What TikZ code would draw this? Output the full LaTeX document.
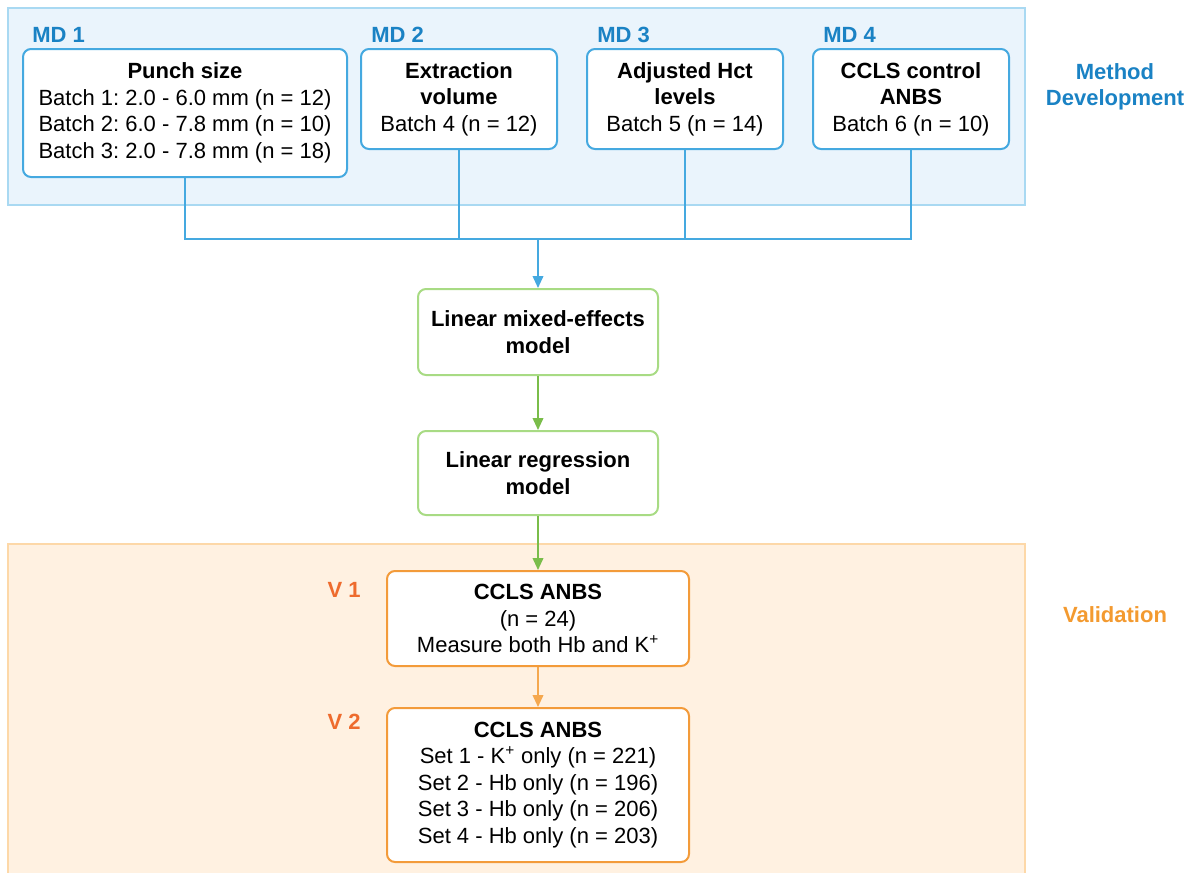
\documentclass[tikz,border=0pt]{standalone}
\usepackage{fontspec}
\setmainfont{Liberation Sans}
\usetikzlibrary{arrows.meta}
\frenchspacing

\definecolor{bluebg}{HTML}{EAF4FC}
\definecolor{blueframe}{HTML}{A9D9F2}
\definecolor{blueedge}{HTML}{45A9E0}
\definecolor{bluetext}{HTML}{1A82C4}
\definecolor{greenedge}{HTML}{A8DB84}
\definecolor{greenline}{HTML}{7ABD4A}
\definecolor{orangebg}{HTML}{FFF1E1}
\definecolor{orangeframe}{HTML}{FDD8A8}
\definecolor{orangeedge}{HTML}{F39B3A}
\definecolor{orangeline}{HTML}{F5A84E}
\definecolor{vtext}{HTML}{EE6B2D}
\definecolor{valtext}{HTML}{F39A30}

\begin{document}
\begin{tikzpicture}[
  x=0.75pt, y=-0.75pt,
  box/.style={rectangle, rounded corners=6pt, line width=1.5pt, fill=white, align=center,
    font=\fontsize{16.5}{19.9}\selectfont, inner sep=2pt},
  mdbox/.style={box, draw=blueedge},
  modelbox/.style={box, draw=greenedge, minimum width=180pt, font=\bfseries\fontsize{16.5}{19.9}\selectfont},
  valbox/.style={box, draw=orangeedge, minimum width=226.5pt},
  steplabel/.style={font=\bfseries\fontsize{16.5}{19.5}\selectfont, inner sep=0pt},
  tip/.style={-{Triangle[length=9pt,width=8pt]}},
  link/.style={line width=1.2pt}
]
\useasboundingbox (0,0) rectangle (1192,872);

% Section backgrounds
\filldraw[fill=bluebg, draw=blueframe, line width=0.8pt] (8,8) rectangle (1025,205);
\filldraw[fill=orangebg, draw=orangeframe, line width=0.8pt] (8,544) rectangle (1025,880);
\node[steplabel, text=bluetext, align=center] (mdev) at (1115,87) {Method\\Development};
\node[steplabel, text=valtext] (valid) at (1115,615) {Validation};

% Method development boxes
\node[mdbox, minimum width=243pt, minimum height=96pt] (md1) at (185,113)
  {\textbf{Punch size}\\Batch 1: 2.0 - 6.0 mm (n = 12)\\Batch 2: 6.0 - 7.8 mm (n = 10)\\Batch 3: 2.0 - 7.8 mm (n = 18)};
\node[mdbox, minimum width=147pt, minimum height=75pt] (md2) at (459,99)
  {\textbf{Extraction}\\\textbf{volume}\\Batch 4 (n = 12)};
\node[mdbox, minimum width=147pt, minimum height=75pt] (md3) at (685,99)
  {\textbf{Adjusted Hct}\\\textbf{levels}\\Batch 5 (n = 14)};
\node[mdbox, minimum width=147pt, minimum height=75pt] (md4) at (911,99)
  {\textbf{CCLS control}\\\textbf{ANBS}\\Batch 6 (n = 10)};

\node[steplabel, text=bluetext, anchor=west] (lab1) at (32,35) {MD 1};
\node[steplabel, text=bluetext, anchor=west] (lab2) at (371,35) {MD 2};
\node[steplabel, text=bluetext, anchor=west] (lab3) at (597,35) {MD 3};
\node[steplabel, text=bluetext, anchor=west] (lab4) at (823,35) {MD 4};

% Models
\node[modelbox, minimum height=64.5pt] (lme) at (538,332) {Linear mixed-effects\\model};
\node[modelbox, minimum height=63pt] (lr) at (538,473) {Linear regression\\model};

% Validation boxes
\node[valbox, minimum height=71.25pt] (v1) at (538,618.5)
  {\textbf{CCLS ANBS}\\(n = 24)\\Measure both Hb and K\textsuperscript{+}};
\node[valbox, minimum height=115.5pt] (v2) at (538,785)
  {\textbf{CCLS ANBS}\\Set 1 - K\textsuperscript{+} only (n = 221)\\Set 2 - Hb only (n = 196)\\Set 3 - Hb only (n = 206)\\Set 4 - Hb only (n = 203)};

\node[steplabel, text=vtext, anchor=east] (labv1) at (361,590) {V 1};
\node[steplabel, text=vtext, anchor=east] (labv2) at (361,722) {V 2};

% Arrows
\coordinate (join) at (538,239);
\draw[link, blueedge] (md1.south) |- (md4.south |- join) -- (md4.south);
\draw[link, blueedge] (md2.south) -- (md2.south |- join);
\draw[link, blueedge] (md3.south) -- (md3.south |- join);
\draw[link, tip, blueedge] (join) -- (lme.north);
\draw[link, tip, greenline] (lme.south) -- (lr.north);
\draw[link, tip, greenline] (lr.south) -- (v1.north);
\draw[link, tip, orangeline] (v1.south) -- (v2.north);
\end{tikzpicture}
\end{document}
